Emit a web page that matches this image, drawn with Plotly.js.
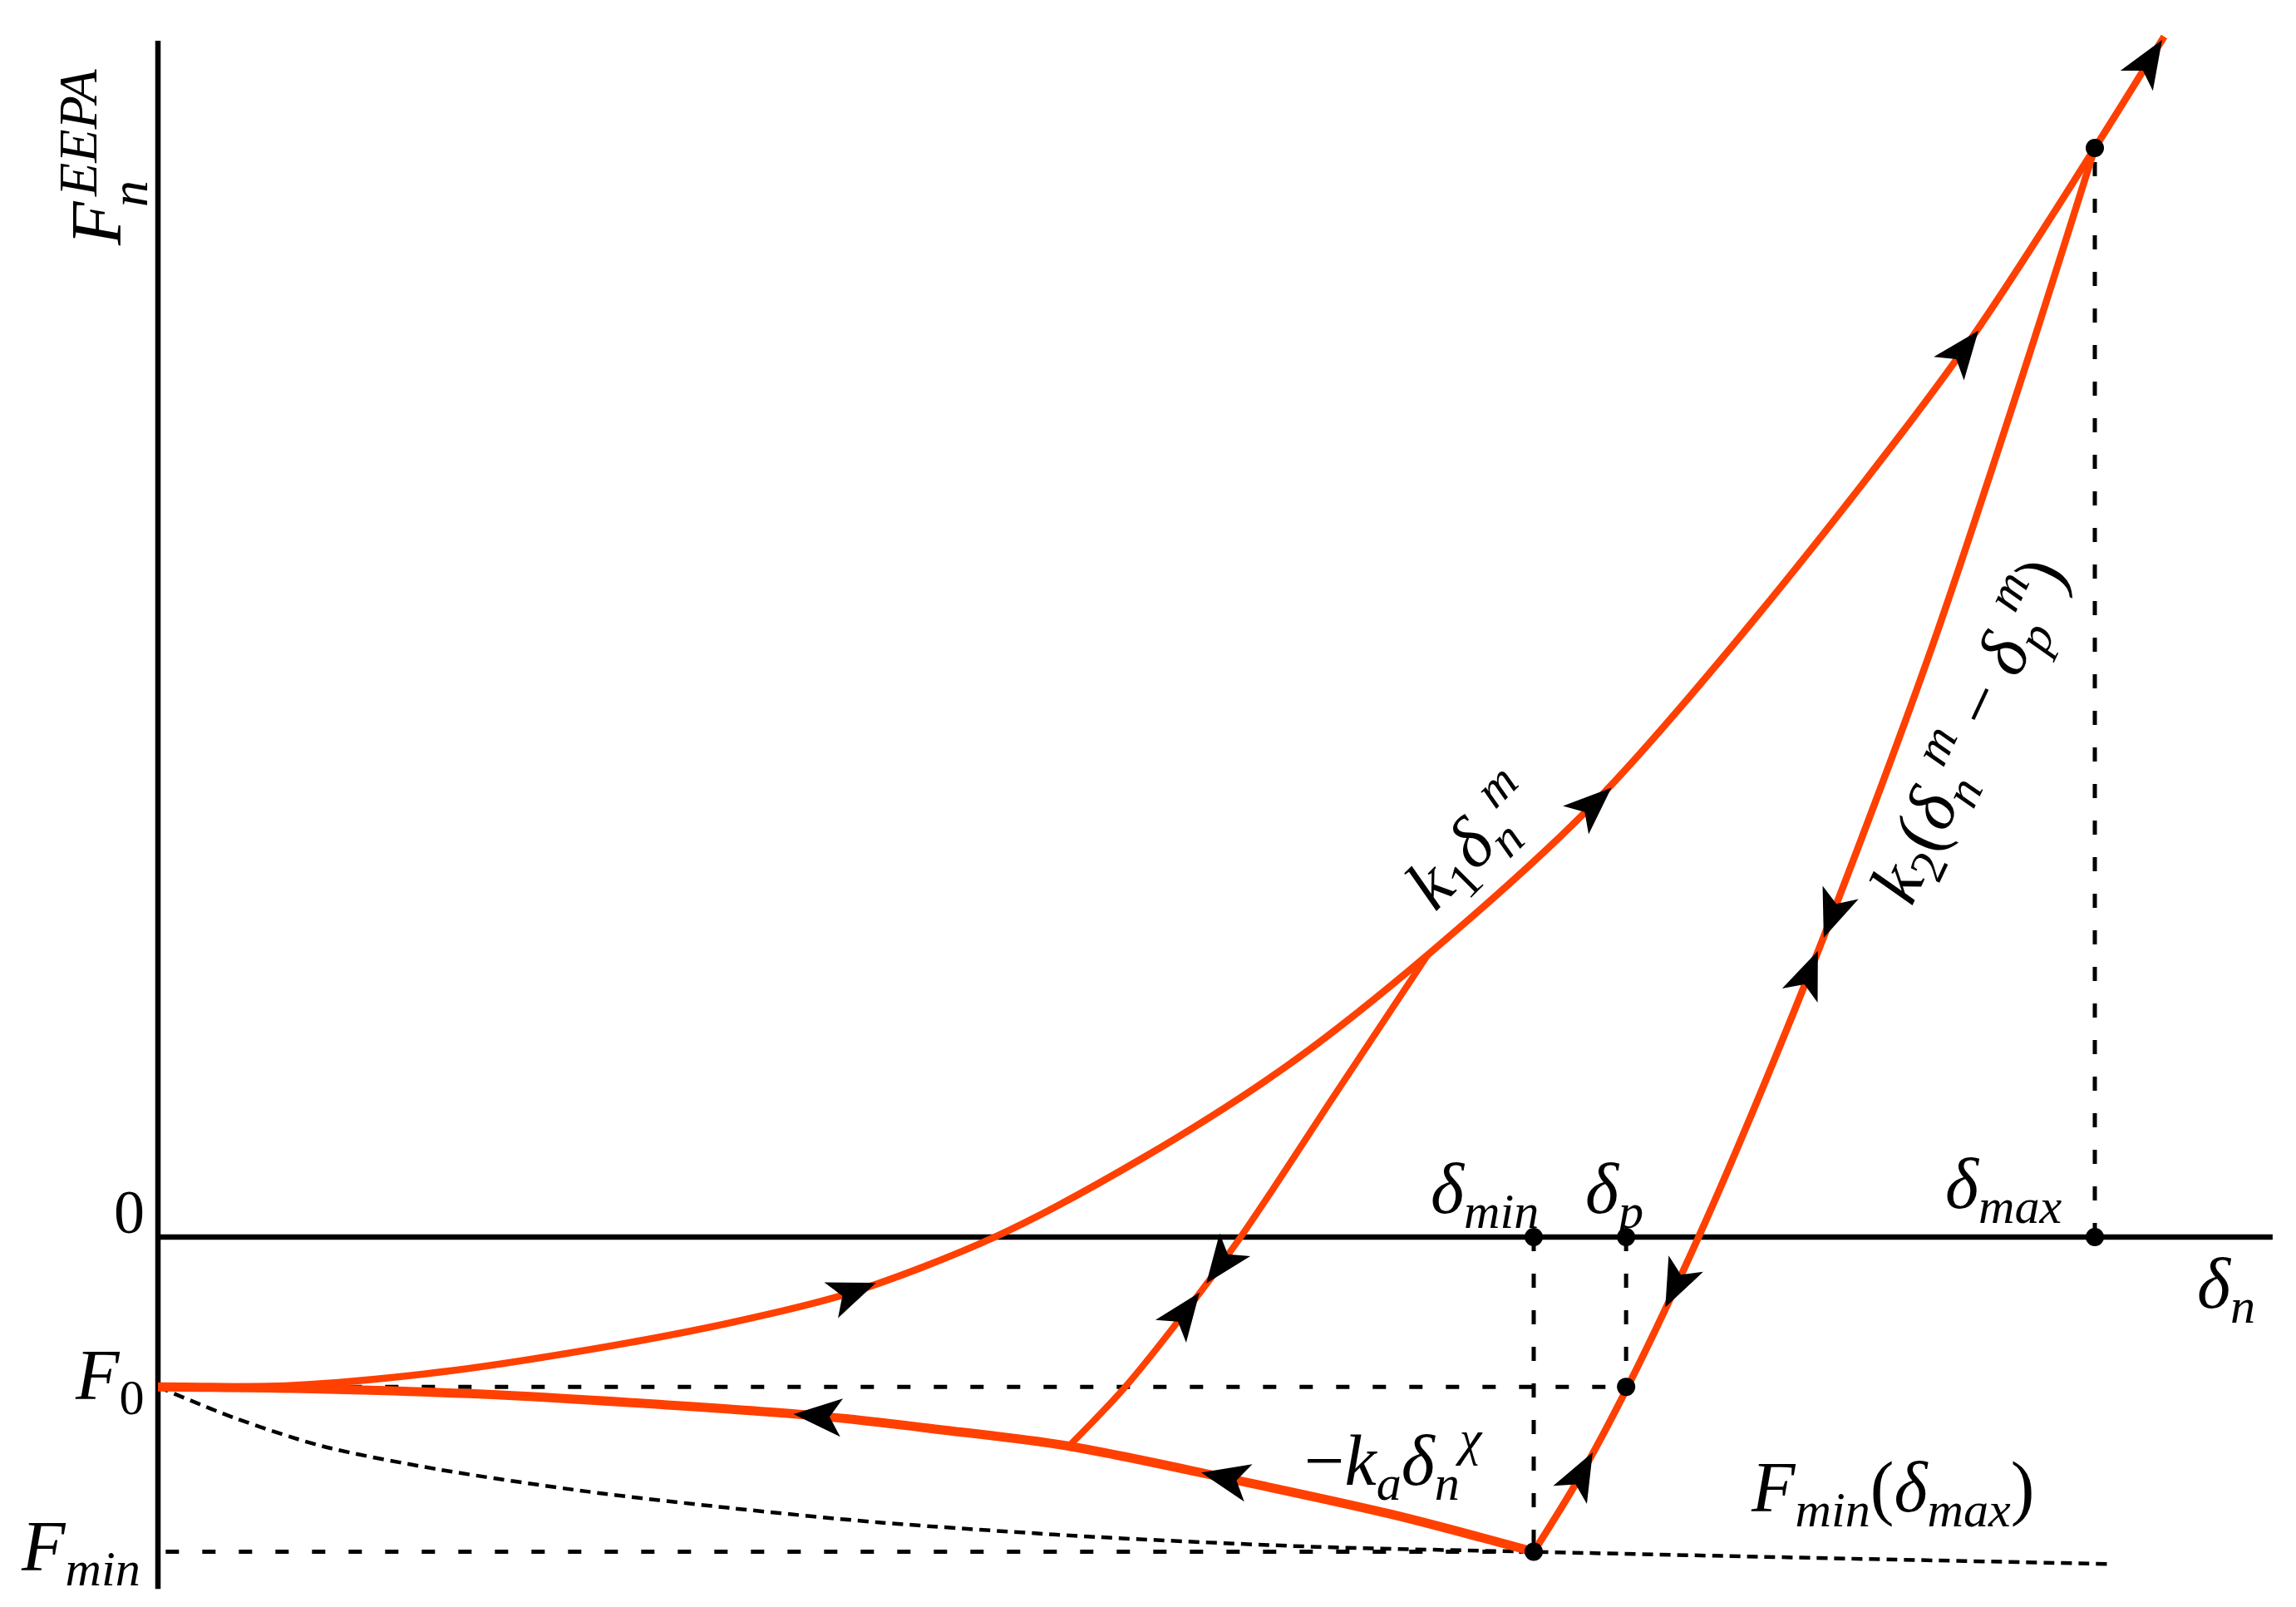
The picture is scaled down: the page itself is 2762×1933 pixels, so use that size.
<!DOCTYPE html>
<html><head><meta charset="utf-8">
<script src="https://cdn.plot.ly/plotly-3.0.1.min.js"></script>
<style>html,body{margin:0;padding:0;background:#fff}#chart{width:2762px;height:1933px}</style>
</head><body><div id="chart"></div>
<script>
// ---- Schematic values (normalised: delta_max = 1, F(delta_max) = 1) ----
const F0 = -0.1375;
const Fmin = -0.289;
const deltaMin = 0.7103;
const deltaP = 0.758;
const deltaMax = 1.0;
const Fmax = 1.0;

// loading branch  k1 * delta_n^m
const loadingX = [0, 0.0696, 0.1453, 0.2209, 0.2965, 0.3570, 0.432, 0.5082, 0.5838, 0.6556, 0.7403, 0.8257, 0.9315, 1.0, 1.0358];
const loadingY = [F0, -0.1362, -0.1241, -0.1039, -0.0783, -0.0515, 0, 0.0723, 0.1583, 0.2592, 0.3963, 0.5704, 0.8131, 1.0, 1.1023];

// unloading / reloading branch  k2 (delta_n^m - delta_p^m)
const unloadX = [1.0, 0.9618, 0.9164, 0.8635, 0.8294, 0.7954, 0.7588, 0.7334, 0.7103];
const unloadY = [1.0, 0.7863, 0.5442, 0.2915, 0.1408, 0, F0, -0.2222, Fmin];

// inner unloading / reloading branch
const innerX = [0.6556, 0.6085, 0.5590, 0.5290, 0.4987, 0.4703];
const innerY = [0.2592, 0.133, 0, -0.072, -0.139, -0.192];

// adhesive branch  -ka * delta_n^chi
const adhesiveX = [0, 0.0697, 0.1679, 0.2587, 0.3418, 0.4023, 0.4703, 0.5497, 0.6367, 0.7103];
const adhesiveY = [F0, -0.1389, -0.1443, -0.1537, -0.1644, -0.1765, -0.192, -0.2206, -0.2545, Fmin];

// Fmin(delta_max) envelope (dashed)
const envelopeX = [0, 0.0394, 0.0848, 0.1453, 0.2209, 0.2965, 0.3721, 0.4855, 0.5989, 0.7103, 0.8257, 1.0071];
const envelopeY = [F0, -0.166, -0.192, -0.2135, -0.2335, -0.249, -0.262, -0.2755, -0.2845, Fmin, -0.2935, -0.3002];

// direction arrows: position (delta) on each branch, direction (+1 towards larger delta)
const arrowsLoadingX = [0.358, 0.7403, 0.9315, 1.0275];
const arrowsLoadingDir = [1, 1, 1, 1];
const arrowsAdhesiveX = [0.3418, 0.552];
const arrowsAdhesiveDir = [-1, -1];
const arrowsInnerX = [0.5494, 0.5296];
const arrowsInnerDir = [-1, 1];
const arrowsUnloadX = [0.8648, 0.8519, 0.7841, 0.7343];
const arrowsUnloadDir = [-1, 1, -1, 1];

// axis extents
const axisYBottom = -0.323, axisYTop = 1.0985, axisXRight = 1.0918;

// ---- layout geometry ----
const W = 2762, H = 1933;
const xRange = [-190/2330, (W-190)/2330];
const yRange = [(1488-H)/1310, 1488/1310];
const kx = W/(xRange[1]-xRange[0]);
const ky = H/(yRange[1]-yRange[0]);

const ORANGE = '#ff4000';
const FONT = 'Liberation Serif, Times New Roman, serif';

function interp(xs, ys, x){
  for(let i=0;i<xs.length-1;i++){
    const a=xs[i], b=xs[i+1];
    if((x>=a && x<=b)||(x<=a && x>=b)){
      const t=(x-a)/(b-a);
      return {y: ys[i]+t*(ys[i+1]-ys[i]), dx:(b-a)*kx, dy:(ys[i+1]-ys[i])*ky};
    }
  }
  return null;
}
function arrowPolys(xs, ys, ax, dirs){
  const px=[], py=[];
  const L=58, Wd=46;
  ax.forEach((x,k)=>{
    const r=interp(xs,ys,x); if(!r) return;
    let ux=r.dx, uy=r.dy; const n=Math.hypot(ux,uy); ux/=n; uy/=n;
    if(Math.sign(ux)!==dirs[k] && ux!==0){ux=-ux;uy=-uy;}
    const nx=-uy, ny=ux;
    const pts=[[0.55*L,0],[-0.45*L,Wd/2],[-0.2*L,0],[-0.45*L,-Wd/2],[0.55*L,0]];
    pts.forEach(([a,b])=>{
      px.push(x+(a*ux+b*nx)/kx);
      py.push(r.y+(a*uy+b*ny)/ky);
    });
    px.push(null); py.push(null);
  });
  return {x:px,y:py,type:'scatter',mode:'lines',fill:'toself',fillcolor:'#000',
          line:{width:0,color:'#000'},hoverinfo:'skip',showlegend:false};
}
function dashed(x,y,dash,w){
  return {x:x,y:y,type:'scatter',mode:'lines',line:{color:'#000',width:w||5,dash:dash},hoverinfo:'skip',showlegend:false};
}
function orange(x,y,w){
  return {x:x,y:y,type:'scatter',mode:'lines',line:{color:ORANGE,width:w,shape:'spline',smoothing:0.9},hoverinfo:'skip',showlegend:false};
}

const traces = [
  // axes
  {x:[0,0],y:[axisYBottom,axisYTop],type:'scatter',mode:'lines',line:{color:'#000',width:6.5},showlegend:false,hoverinfo:'skip'},
  {x:[0,axisXRight],y:[0,0],type:'scatter',mode:'lines',line:{color:'#000',width:6.5},showlegend:false,hoverinfo:'skip'},
  // dashed guides
  dashed([0.004,deltaMin],[Fmin,Fmin],'16px,28px'),
  dashed([0.004,deltaP],[F0,F0],'16px,28px'),
  dashed([deltaMin,deltaMin],[0,Fmin],'17px,27px'),
  dashed([deltaP,deltaP],[0,F0],'17px,27px'),
  dashed([deltaMax,deltaMax],[0,Fmax],'17px,27px'),
  {x:envelopeX,y:envelopeY,type:'scatter',mode:'lines',line:{color:'#000',width:4.5,dash:'13px,8px',shape:'spline',smoothing:0.8},hoverinfo:'skip',showlegend:false},
  // branches
  orange(adhesiveX,adhesiveY,11),
  orange(loadingX,loadingY,8.5),
  orange(innerX,innerY,8),
  orange(unloadX,unloadY,8.5),
  // arrows
  arrowPolys(loadingX,loadingY,arrowsLoadingX,arrowsLoadingDir),
  arrowPolys(adhesiveX,adhesiveY,arrowsAdhesiveX,arrowsAdhesiveDir),
  arrowPolys(innerX,innerY,arrowsInnerX,arrowsInnerDir),
  arrowPolys(unloadX,unloadY,arrowsUnloadX,arrowsUnloadDir),
  // key points
  {x:[deltaMin,deltaP,deltaMax,deltaMax,deltaP,deltaMin],y:[0,0,0,Fmax,F0,Fmin],type:'scatter',mode:'markers',
   marker:{color:'#000',size:22},hoverinfo:'skip',showlegend:false}
];

function ann(text,x,y,size,angle,extra){
  return Object.assign({text:text,x:x,y:y,xref:'x',yref:'y',showarrow:false,textangle:angle||0,
    xanchor:'center',yanchor:'middle',font:{family:FONT,size:size,color:'#000'}},extra||{});
}
const S=86;
const annotations = [
  ann('<i>F</i>', -0.0318, 0.9313, S, -90),
  ann('<i>n</i>', -0.0150, 0.958, 64, -90),
  ann('<i>EEPA</i>', -0.0416, 1.0137, 66, -90),
  ann('0', -0.015, 0.0229, 74, 0),
  ann('<i>F</i><sub>0</sub>', -0.0249, -0.1313, S, 0),
  ann('<i>F</i><sub><i>min</i></sub>', -0.0399, -0.2885, S, 0),
  ann('<i>δ</i><sub><i>min</i></sub>', 0.685, 0.0397, S, 0),
  ann('<i>δ</i><sub><i>p</i></sub>', 0.752, 0.0397, S, 0),
  ann('<i>δ</i><sub><i>max</i></sub>', 0.9528, 0.0443, S, 0),
  ann('<i>δ</i><sub><i>n</i></sub>', 1.0678, -0.0473, S, 0),
  ann('<i>k</i><sub>1</sub><i>δ</i><sub><i>n</i></sub><sup><i>m</i></sup>', 0.678, 0.3626, S, -45),
  ann('<i>k</i><sub>2</sub>(<i>δ</i><sub><i>n</i></sub><sup><i>m</i></sup> − <i>δ</i><sub><i>p</i></sub><sup><i>m</i></sup>)', 0.934, 0.4664, S, -65),
  ann('−<i>k</i><sub><i>a</i></sub><i>δ</i><sub><i>n</i></sub><sup><i>χ</i></sup>', 0.6378, -0.2053, S, 0),
  ann('<i>F</i><sub><i>min</i></sub>(<i>δ</i><sub><i>max</i></sub>)', 0.8957, -0.2344, S, 0)
];

const layout = {
  width:W, height:H,
  margin:{l:0,r:0,t:0,b:0,pad:0},
  paper_bgcolor:'#fff', plot_bgcolor:'#fff',
  xaxis:{range:xRange,visible:false,fixedrange:true},
  yaxis:{range:yRange,visible:false,fixedrange:true},
  showlegend:false,
  annotations:annotations
};
Plotly.newPlot('chart',traces,layout,{displayModeBar:false,staticPlot:true});
</script>
</body></html>
